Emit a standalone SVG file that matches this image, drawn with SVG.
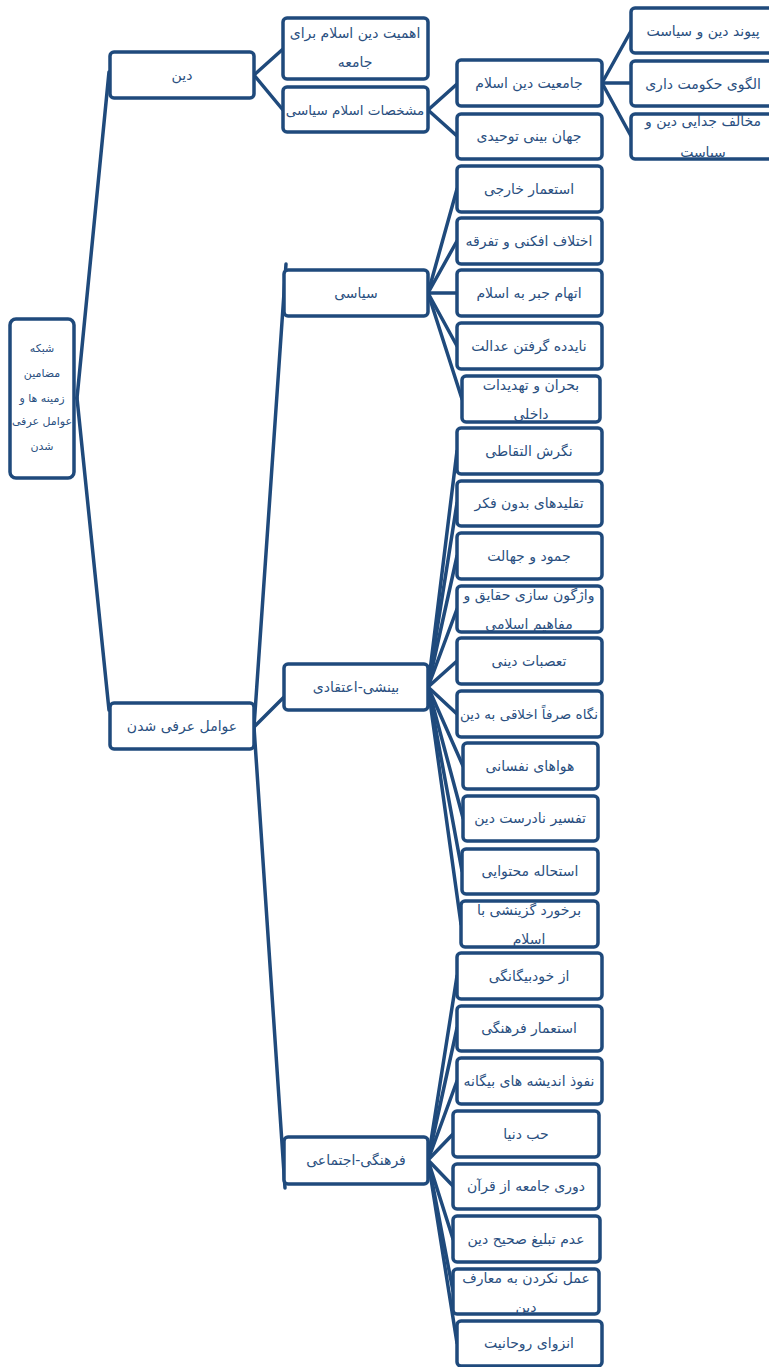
<svg xmlns="http://www.w3.org/2000/svg" width="769" height="1367" viewBox="0 0 769 1367">
<style>
rect{fill:#fff;stroke:#1f4a7c;stroke-width:3.5}
text{font-family:"DejaVu Sans",sans-serif;font-size:14px;fill:#2a4f80;text-anchor:middle;direction:rtl}
.c line{stroke:#1f4a7c;stroke-width:3.5;stroke-linecap:round}
.sm{font-size:11px}
.w{font-size:13.5px}
</style>
<rect x="0" y="0" width="769" height="1367" style="fill:#fff;stroke:none"/>
<g class="c" id="connectors">
<line x1="77" y1="398" x2="109" y2="72"/>
<line x1="77" y1="398" x2="109" y2="710"/>
<line x1="254" y1="75" x2="283" y2="49"/>
<line x1="254" y1="75" x2="283" y2="110"/>
<line x1="428" y1="110" x2="457" y2="84"/>
<line x1="428" y1="110" x2="457" y2="136"/>
<line x1="602" y1="83" x2="631" y2="31"/>
<line x1="602" y1="83" x2="631" y2="83"/>
<line x1="602" y1="83" x2="631" y2="136"/>
<line x1="254" y1="727" x2="286" y2="264"/>
<line x1="254" y1="727" x2="284" y2="697"/>
<line x1="254" y1="727" x2="285" y2="1188"/>
<line x1="428" y1="293" x2="457" y2="189"/>
<line x1="428" y1="293" x2="457" y2="241"/>
<line x1="428" y1="293" x2="457" y2="293"/>
<line x1="428" y1="293" x2="457" y2="346"/>
<line x1="428" y1="293" x2="462" y2="399"/>
<line x1="428" y1="687" x2="457" y2="451"/>
<line x1="428" y1="687" x2="457" y2="503"/>
<line x1="428" y1="687" x2="457" y2="556"/>
<line x1="428" y1="687" x2="457" y2="609"/>
<line x1="428" y1="687" x2="457" y2="661"/>
<line x1="428" y1="687" x2="457" y2="714"/>
<line x1="428" y1="687" x2="463" y2="766"/>
<line x1="428" y1="687" x2="463" y2="818"/>
<line x1="428" y1="687" x2="462" y2="871"/>
<line x1="428" y1="687" x2="461" y2="924"/>
<line x1="428" y1="1160" x2="457" y2="976"/>
<line x1="428" y1="1160" x2="457" y2="1028"/>
<line x1="428" y1="1160" x2="457" y2="1081"/>
<line x1="428" y1="1160" x2="453" y2="1134"/>
<line x1="428" y1="1160" x2="453" y2="1186"/>
<line x1="428" y1="1160" x2="453" y2="1239"/>
<line x1="428" y1="1160" x2="453" y2="1291"/>
<line x1="428" y1="1160" x2="457" y2="1343"/>
</g>
<g id="root"><rect x="10" y="319" width="64" height="159" rx="6"/>
<text class="sm" x="42" y="352">شبکه</text><text class="sm" x="42" y="377">مضامین</text><text class="sm" x="42" y="402">زمینه ها و</text><text class="sm" x="42" y="425">عوامل عرفی</text><text class="sm" x="42" y="450">شدن</text></g>
<g id="n-din"><rect x="110" y="52" width="144" height="46" rx="4"/><text x="182" y="80">دین</text></g>
<g id="n-avamel"><rect x="110" y="703" width="144" height="46" rx="4"/><text x="182" y="731">عوامل عرفی شدن</text></g>
<g id="n-ahamiat"><rect x="283" y="18" width="145" height="61" rx="4"/><text x="355" y="38">اهمیت دین اسلام برای</text><text x="355" y="67">جامعه</text></g>
<g id="n-moshakhasat"><rect x="283" y="87" width="145" height="45" rx="4"/><text class="w" x="355" y="115">مشخصات اسلام سیاسی</text></g>
<g id="n-jameiat"><rect x="457" y="60" width="145" height="46" rx="4"/><text x="529" y="88">جامعیت دین اسلام</text></g>
<g id="n-jahanbini"><rect x="457" y="114" width="145" height="45" rx="4"/><text x="529" y="141">جهان بینی توحیدی</text></g>
<g id="n-peyvand"><rect x="631" y="8" width="145" height="45" rx="4"/><text x="703" y="36">پیوند دین و سیاست</text></g>
<g id="n-olgu"><rect x="631" y="61" width="145" height="45" rx="4"/><text x="703" y="89">الگوی حکومت داری</text></g>
<g id="n-mokhalef"><rect x="631" y="114" width="145" height="45" rx="4"/><text x="703" y="126">مخالف جدایی دین و</text><text x="703" y="157">سیاست</text></g>
<g id="n-siasi"><rect x="284" y="270" width="144" height="46" rx="4"/><text x="356" y="298">سیاسی</text></g>
<g id="n-binesh"><rect x="284" y="664" width="144" height="46" rx="4"/><text x="356" y="692">بینشی-اعتقادی</text></g>
<g id="n-farhangi"><rect x="284" y="1137" width="144" height="47" rx="4"/><text x="356" y="1165">فرهنگی-اجتماعی</text></g>
<g id="s1"><rect x="457" y="166" width="145" height="46" rx="4"/><text x="529" y="194">استعمار خارجی</text></g>
<g id="s2"><rect x="457" y="218" width="145" height="46" rx="4"/><text x="529" y="246">اختلاف افکنی و تفرقه</text></g>
<g id="s3"><rect x="457" y="270" width="145" height="46" rx="4"/><text x="529" y="298">اتهام جبر به اسلام</text></g>
<g id="s4"><rect x="457" y="323" width="145" height="46" rx="4"/><text x="529" y="351">نایدده گرفتن عدالت</text></g>
<g id="s5"><rect x="462" y="376" width="138" height="46" rx="4"/><text x="531" y="390">بحران و تهدیدات</text><text x="531" y="419">داخلی</text></g>
<g id="b1"><rect x="457" y="428" width="145" height="46" rx="4"/><text x="529" y="456">نگرش التقاطی</text></g>
<g id="b2"><rect x="457" y="481" width="145" height="45" rx="4"/><text x="529" y="508">تقلیدهای بدون فکر</text></g>
<g id="b3"><rect x="457" y="533" width="145" height="46" rx="4"/><text x="529" y="561">جمود و جهالت</text></g>
<g id="b4"><rect x="457" y="586" width="145" height="46" rx="4"/><text x="529" y="600">واژگون سازی حقایق و</text><text x="529" y="629">مفاهیم اسلامی</text></g>
<g id="b5"><rect x="457" y="638" width="145" height="46" rx="4"/><text x="529" y="666">تعصبات دینی</text></g>
<g id="b6"><rect x="457" y="691" width="145" height="46" rx="4"/><text class="w" x="529" y="719">نگاه صرفاً اخلاقی به دین</text></g>
<g id="b7"><rect x="463" y="743" width="135" height="46" rx="4"/><text x="530" y="771">هواهای نفسانی</text></g>
<g id="b8"><rect x="463" y="796" width="135" height="45" rx="4"/><text x="530" y="823">تفسیر نادرست دین</text></g>
<g id="b9"><rect x="462" y="849" width="136" height="45" rx="4"/><text x="530" y="876">استحاله محتوایی</text></g>
<g id="b10"><rect x="461" y="901" width="137" height="46" rx="4"/><text x="529" y="915">برخورد گزینشی با</text><text x="529" y="944">اسلام</text></g>
<g id="f1"><rect x="457" y="953" width="145" height="46" rx="4"/><text x="529" y="981">از خودبیگانگی</text></g>
<g id="f2"><rect x="457" y="1006" width="145" height="45" rx="4"/><text x="529" y="1033">استعمار فرهنگی</text></g>
<g id="f3"><rect x="457" y="1058" width="145" height="46" rx="4"/><text x="529" y="1086">نفوذ اندیشه های بیگانه</text></g>
<g id="f4"><rect x="453" y="1111" width="146" height="46" rx="4"/><text x="526" y="1139">حب دنیا</text></g>
<g id="f5"><rect x="453" y="1164" width="146" height="45" rx="4"/><text x="526" y="1191">دوری جامعه از قرآن</text></g>
<g id="f6"><rect x="453" y="1216" width="147" height="46" rx="4"/><text x="526" y="1244">عدم تبلیغ صحیح دین</text></g>
<g id="f7"><rect x="453" y="1269" width="146" height="45" rx="4"/><text x="526" y="1283">عمل نکردن به معارف</text><text x="526" y="1312">دین</text></g>
<g id="f8"><rect x="457" y="1321" width="145" height="45" rx="4"/><text x="529" y="1348">انزوای روحانیت</text></g>
</svg>
